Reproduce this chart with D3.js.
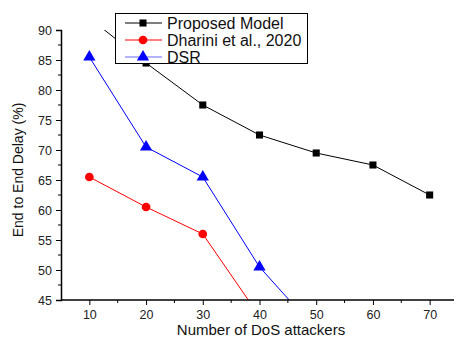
<!DOCTYPE html>
<html><head><meta charset="utf-8">
<script src="https://cdn.jsdelivr.net/npm/d3@7"></script>
<style>body{margin:0;background:#fff}svg{display:block;font-family:"Liberation Sans",Arial,sans-serif}</style>
</head><body><svg id="c" width="454" height="338"></svg>
<script>
const attackers = [10, 20, 30, 40, 50, 60, 70];
const proposed = [92, 84.5, 77.5, 72.5, 69.5, 67.5, 62.5];
const dharini = [65.5, 60.5, 56, 42.3];
const dsr = [85.5, 70.5, 65.5, 50.5, 40];
const seriesNames = ["Proposed Model", "Dharini et al., 2020", "DSR"];
const seriesColors = ["#000000", "#ff0000", "#0000ff"];
const seriesShapes = ["square", "circle", "triangle"];
const xTicks = [10, 20, 30, 40, 50, 60, 70];
const yTicks = [45, 50, 55, 60, 65, 70, 75, 80, 85, 90];
const xLabel = "Number of DoS attackers";
const yLabel = "End to End Delay (%)";

const svg = d3.select("#c");
const x = d3.scaleLinear().domain([5, 75]).range([61, 458]);
const y = d3.scaleLinear().domain([45, 90]).range([300, 30]);

svg.append("defs").append("clipPath").attr("id","clip")
  .append("rect").attr("x",61).attr("y",30).attr("width",393).attr("height",270);

const allSeries = [proposed, dharini, dsr];
const symType = {square: d3.symbolSquare, circle: d3.symbolCircle, triangle: d3.symbolTriangle};
const symSize = {square: 50, circle: 60, triangle: 65};

const plot = svg.append("g").attr("clip-path","url(#clip)");
allSeries.forEach((vals, i) => {
  const pts = vals.map((v, j) => [attackers[j], v]);
  plot.append("path").datum(pts)
    .attr("fill","none").attr("stroke",seriesColors[i]).attr("stroke-width",1)
    .attr("d", d3.line().x(d => x(d[0])).y(d => y(d[1])));
  plot.selectAll(null).data(pts).enter().append("path")
    .attr("transform", d => `translate(${x(d[0])},${y(d[1])})`)
    .attr("d", d3.symbol().type(symType[seriesShapes[i]]).size(symSize[seriesShapes[i]]))
    .attr("fill", seriesColors[i]);
});

// axes
const xAxis = svg.append("g").attr("transform","translate(0,300)")
  .call(d3.axisBottom(x).tickValues(xTicks).tickSizeOuter(0).tickSize(5).tickPadding(5));
xAxis.append("g").selectAll("line").data([15,25,35,45,55,65,75]).enter().append("line")
  .attr("x1",d=>x(d)).attr("x2",d=>x(d)).attr("y1",0).attr("y2",3).attr("stroke","#000");
const yAxis = svg.append("g").attr("transform","translate(61,0)")
  .call(d3.axisLeft(y).tickValues(yTicks).tickSizeOuter(0).tickSize(5).tickPadding(4));
yAxis.append("g").selectAll("line").data([47.5,52.5,57.5,62.5,67.5,72.5,77.5,82.5,87.5]).enter().append("line")
  .attr("y1",d=>y(d)).attr("y2",d=>y(d)).attr("x1",0).attr("x2",-3).attr("stroke","#000");
[xAxis, yAxis].forEach(a => {
  a.selectAll("text").attr("font-size",12.5).attr("fill","#222").attr("font-family","Liberation Sans, Arial, sans-serif");
  a.select(".domain").attr("stroke","#000").attr("stroke-width",1.5);
});
xAxis.select(".domain").attr("d","M61,0H454");

svg.append("text").attr("x",261).attr("y",335).attr("text-anchor","middle")
  .attr("font-size",15).attr("fill","#111").text(xLabel);
svg.append("text").attr("transform","translate(23,170) rotate(-90)").attr("text-anchor","middle")
  .attr("font-size",14).attr("fill","#111").text(yLabel);

// legend
const lg = svg.append("g");
lg.append("rect").attr("x",115.5).attr("y",13.5).attr("width",192).attr("height",50)
  .attr("fill","#fff").attr("stroke","#000").attr("stroke-width",1);
seriesNames.forEach((n, i) => {
  const yy = 23 + i*17;
  lg.append("line").attr("x1",125).attr("x2",162).attr("y1",yy).attr("y2",yy)
    .attr("stroke",seriesColors[i]).attr("stroke-opacity", i===2?0.6:1);
  lg.append("path").attr("transform",`translate(143,${yy})`)
    .attr("d", d3.symbol().type(symType[seriesShapes[i]]).size(symSize[seriesShapes[i]]))
    .attr("fill", seriesColors[i]);
  lg.append("text").attr("x",167).attr("y",yy+5.5).attr("font-size",16).attr("fill","#111").text(n);
});
</script></body></html>
